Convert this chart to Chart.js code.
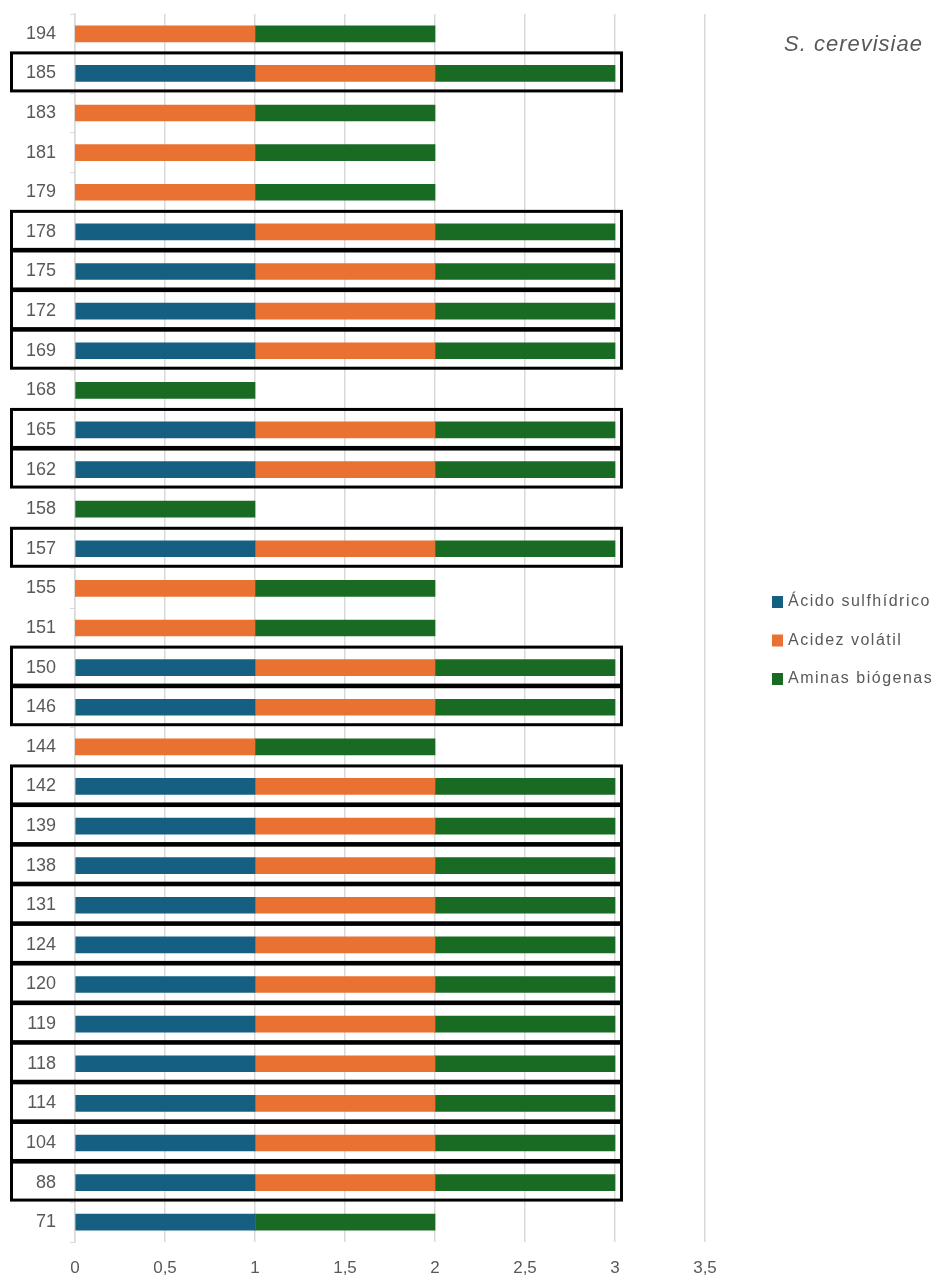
<!DOCTYPE html>
<html lang="es">
<head>
<meta charset="utf-8">
<title>S. cerevisiae</title>
<script src="https://cdn.jsdelivr.net/npm/chart.js@4.4.1/dist/chart.umd.min.js"></script>
<style>
  html, body { margin: 0; padding: 0; background: #ffffff; }
  #wrap { width: 941px; height: 1282px; }
</style>
</head>
<body>
<div id="wrap"><canvas id="chart" width="941" height="1282"></canvas></div>
<script>
// Cepas (de arriba a abajo)
const categories = ['194','185','183','181','179','178','175','172','169','168','165','162','158','157','155','151','150','146','144','142','139','138','131','124','120','119','118','114','104','88','71'];
// Presencia de cada parámetro (1 = sí, 0 = no)
const acidoSulfhidrico = [0,1,0,0,0,1,1,1,1,0,1,1,0,1,0,0,1,1,0,1,1,1,1,1,1,1,1,1,1,1,1];
const acidezVolatil    = [1,1,1,1,1,1,1,1,1,0,1,1,0,1,1,1,1,1,1,1,1,1,1,1,1,1,1,1,1,1,0];
const aminasBiogenas   = [1,1,1,1,1,1,1,1,1,1,1,1,1,1,1,1,1,1,1,1,1,1,1,1,1,1,1,1,1,1,1];
const seriesNames = ['Ácido sulfhídrico', 'Acidez volátil', 'Aminas biógenas'];
const xTicks = [0, 0.5, 1, 1.5, 2, 2.5, 3, 3.5];
const chartTitle = 'S. cerevisiae';

const COLORS = ['#156082', '#E97132', '#196B24'];
const TEXT = '#595959';
const GRID = '#d9d9d9';
const FONT = "'Liberation Sans', Arial, sans-serif";

// Black frame around strains that show all three parameters
const framePlugin = {
  id: 'allThreeFrames',
  afterDatasetsDraw(chart) {
    const { ctx, scales: { x, y } } = chart;
    const ds = chart.data.datasets;
    ctx.save();
    ctx.strokeStyle = '#000000';
    ctx.lineWidth = 3;
    categories.forEach((c, i) => {
      const all = ds.every(d => d.data[i] > 0);
      if (!all) return;
      const total = ds.reduce((s, d) => s + d.data[i], 0);
      const cy = y.getPixelForValue(i) - 1.5;
      const left = 11.5;
      const right = x.getPixelForValue(total) + 6.5;
      ctx.strokeRect(left, cy - 19, right - left, 38);
    });
    ctx.restore();
  }
};

// Legend and species title on the right side
const sidePlugin = {
  id: 'sideLegend',
  afterDraw(chart) {
    const { ctx } = chart;
    ctx.save();
    ctx.fillStyle = TEXT;
    ctx.textBaseline = 'middle';
    ctx.textAlign = 'left';
    ctx.font = "italic 22px " + FONT;
    ctx.letterSpacing = '1px';
    ctx.fillText(chartTitle, 784, 45);

    ctx.font = "16px " + FONT;
    ctx.letterSpacing = '1.5px';
    chart.data.datasets.forEach((d, i) => {
      const cy = 602 + i * 38.5;
      ctx.fillStyle = d.backgroundColor;
      ctx.fillRect(772, cy - 6, 11, 12);
      ctx.fillStyle = TEXT;
      ctx.fillText(d.label, 788, cy);
    });
    ctx.restore();
  }
};

new Chart(document.getElementById('chart'), {
  type: 'bar',
  data: {
    labels: categories,
    datasets: [
      { label: seriesNames[0], data: acidoSulfhidrico, backgroundColor: COLORS[0] },
      { label: seriesNames[1], data: acidezVolatil, backgroundColor: COLORS[1] },
      { label: seriesNames[2], data: aminasBiogenas, backgroundColor: COLORS[2] }
    ]
  },
  options: {
    indexAxis: 'y',
    responsive: false,
    animation: false,
    barThickness: 16,
    layout: { padding: { top: 14, right: 236, bottom: 0, left: 0 } },
    plugins: {
      legend: { display: false },
      tooltip: { enabled: false }
    },
    scales: {
      x: {
        stacked: true,
        min: xTicks[0],
        max: xTicks[xTicks.length - 1],
        afterBuildTicks(scale) { scale.ticks = xTicks.map(v => ({ value: v })); },
        afterFit(scale) { scale.height = 40; scale.paddingLeft = 0; scale.paddingRight = 0; },
        ticks: {
          color: TEXT,
          font: { family: FONT, size: 17 },
          padding: 16,
          callback: v => String(v).replace('.', ',')
        },
        grid: { color: GRID, lineWidth: 1.5, drawTicks: false },
        border: { display: false }
      },
      y: {
        stacked: true,
        afterFit(scale) { scale.width = 75; scale.paddingTop = 0; scale.paddingBottom = 0; },
        ticks: {
          color: TEXT,
          font: { family: FONT, size: 18 },
          padding: 14
        },
        grid: { color: GRID, drawOnChartArea: false, drawTicks: true, tickLength: 5, offset: true },
        border: { display: true, color: GRID, width: 1.5 }
      }
    }
  },
  plugins: [framePlugin, sidePlugin]
});
</script>
</body>
</html>
